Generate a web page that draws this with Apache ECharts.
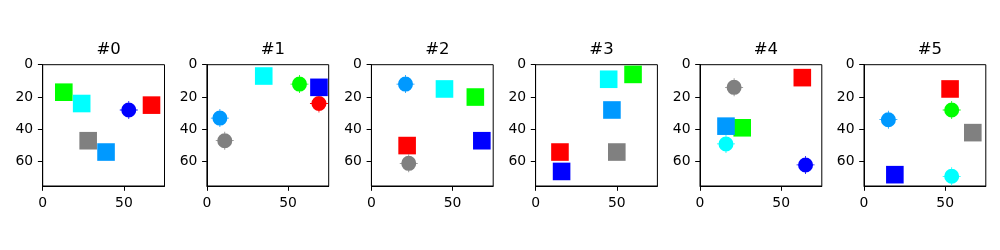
<!DOCTYPE html>
<html><head><meta charset="utf-8">
<script src="https://cdn.jsdelivr.net/npm/echarts@6/dist/echarts.min.js"></script>
<style>html,body{margin:0;padding:0;background:#fff}#c{width:1000px;height:250px}</style>
</head><body><div id="c"></div>
<script>
const panelTitles = ['#0', '#1', '#2', '#3', '#4', '#5'];
// point order in each panel: red, green, blue, cyan, gray, azure
const pointColors = ['#ff0000', '#00ff00', '#0000ff', '#00ffff', '#808080', '#0099ff'];
const pointX = [
  [67, 13, 53, 24, 28, 39],
  [69, 57, 69, 35, 11, 8],
  [22, 64, 68, 45, 23, 21],
  [15, 60, 16, 45, 50, 47],
  [63, 26, 65, 16, 21, 16],
  [53, 54, 19, 54, 67, 15]
];
const pointY = [
  [25, 17, 28, 24, 47, 54],
  [24, 12, 14, 7, 47, 33],
  [50, 20, 47, 15, 61, 12],
  [54, 6, 66, 9, 54, 28],
  [8, 39, 62, 49, 14, 38],
  [15, 28, 68, 69, 42, 34]
];
// s = square, c = circle
const pointShape = [
  ['s', 's', 'c', 's', 's', 's'],
  ['c', 'c', 's', 's', 'c', 'c'],
  ['s', 's', 's', 's', 'c', 'c'],
  ['s', 's', 's', 's', 's', 's'],
  ['s', 's', 'c', 'c', 'c', 's'],
  ['s', 'c', 's', 'c', 's', 'c']
];
const xTicks = [0, 50];
const yTicks = [0, 20, 40, 60];

const circlePath = 'path://M1.5,9 A7.5,7.5 0 1,1 16.5,9 A7.5,7.5 0 1,1 1.5,9 Z M0,8.6 L18,8.6 L18,9.4 L0,9.4 Z M8.6,0 L9.4,0 L9.4,18 L8.6,18 Z';

const lefts = [42.7, 206.9, 371.4, 535.6, 700, 864];
const gw = 121.8, gh = 121.3, gt = 64.7;
const font = 'DejaVu Sans';

const grids = [], xAxes = [], yAxes = [], series = [], titles = [];
panelTitles.forEach((t, i) => {
  grids.push({left: lefts[i], top: gt, width: gw, height: gh, show: true, borderColor: '#000', borderWidth: 1, backgroundColor: '#fff', containLabel: false});
  titles.push({text: t, left: lefts[i] + gw / 2, top: 36, textAlign: 'center',
    textStyle: {fontFamily: font, fontSize: 16.5, fontWeight: 'normal', color: '#000'}});
  const axCommon = {
    gridIndex: i, type: 'value', min: 0, max: 75,
    splitLine: {show: false},
    axisLine: {show: true, onZero: false, lineStyle: {color: '#000', width: 1}},
    axisTick: {show: true, length: 4.8, lineStyle: {color: '#000', width: 1}},
    axisLabel: {fontFamily: font, fontSize: 13.9, color: '#000', margin: 9.5, showMaxLabel: false}
  };
  xAxes.push(Object.assign({}, axCommon, {interval: 50,
    axisLabel: Object.assign({}, axCommon.axisLabel, {margin: 10.5, formatter: v => xTicks.includes(v) ? String(v) : ''})}));
  yAxes.push(Object.assign({}, axCommon, {inverse: true, interval: 20,
    axisLabel: Object.assign({}, axCommon.axisLabel, {formatter: v => yTicks.includes(v) ? String(v) : ''})}));
  const data = pointX[i].map((x, k) => ({
    value: [x, pointY[i][k]],
    symbol: pointShape[i][k] === 's' ? 'rect' : circlePath,
    symbolSize: pointShape[i][k] === 's' ? 17.6 : 18,
    itemStyle: {color: pointColors[k], opacity: 1}
  }));
  series.push({type: 'scatter', xAxisIndex: i, yAxisIndex: i, data: data, clip: true,
    emphasis: {disabled: true}, silent: true});
});

const chart = echarts.init(document.getElementById('c'), null, {renderer: 'canvas'});
chart.setOption({
  animation: false,
  backgroundColor: '#fff',
  title: titles,
  grid: grids,
  xAxis: xAxes,
  yAxis: yAxes,
  series: series
});
</script>
</body></html>
